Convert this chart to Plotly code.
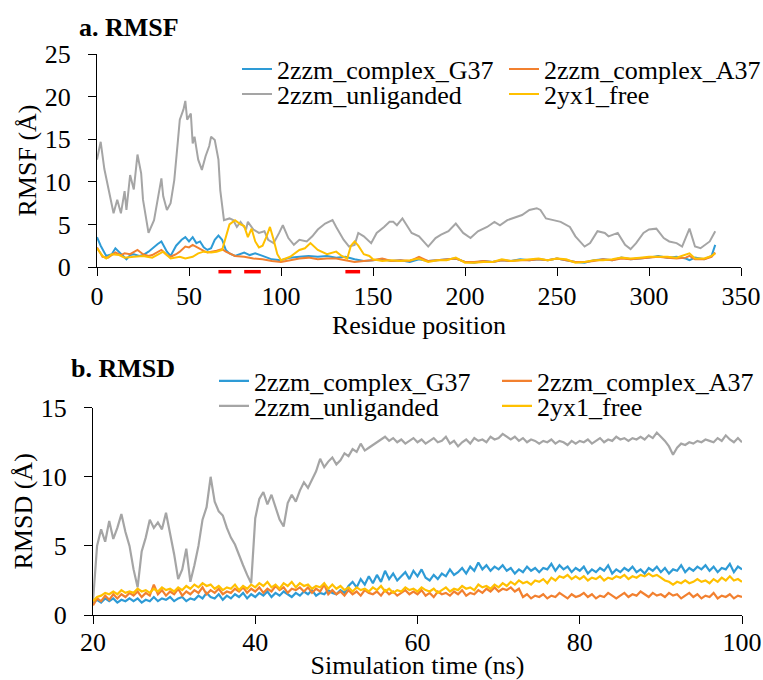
import numpy as np
import plotly.graph_objects as go

W, H = 763, 680
FONT = "Liberation Serif"

series_names = ["2zzm_complex_G37", "2zzm_complex_A37", "2zzm_unliganded", "2yx1_free"]
colors = ["#2e9bd6", "#f2802f", "#a5a5a5", "#ffc000"]

# ---------------- RMSF (residue position vs RMSF) ----------------
rmsf_g37_res = [0, 2, 5, 8, 10, 13, 16, 18, 20, 23, 25, 28, 30, 33, 35, 38, 40, 43, 46, 48,
                50, 52, 54, 56, 58, 60, 62, 64, 66, 68, 70, 72, 75, 78, 80, 83, 86, 90, 95, 100,
                105, 110, 115, 120, 125, 130, 135, 140, 145, 150, 155, 160, 165, 170, 175, 180,
                185, 190, 195, 200, 205, 210, 215, 220, 225, 230, 235, 240, 245, 250, 255, 260,
                265, 270, 275, 280, 285, 290, 295, 300, 305, 310, 315, 320, 322, 325, 330, 334, 336]
rmsf_g37 = [3.5, 2.5, 1.3, 1.5, 2.2, 1.5, 0.9, 1.4, 1.5, 1.3, 1.4, 1.8, 2.2, 2.7, 3.0, 1.8, 1.3, 2.5, 3.2, 3.5,
            3.0, 3.5, 2.8, 3.0, 2.3, 2.0, 2.2, 3.2, 3.7, 3.2, 2.0, 1.6, 1.3, 1.5, 1.7, 1.4, 1.6, 1.3, 0.9, 0.8,
            1.1, 1.2, 1.3, 1.2, 1.3, 1.1, 1.2, 0.9, 0.7, 0.8, 0.9, 0.7, 0.8, 0.6, 0.9, 0.7,
            0.8, 0.9, 1.0, 0.6, 0.5, 0.7, 0.6, 0.8, 0.7, 0.9, 0.8, 0.9, 0.8, 1.0, 0.8, 0.6,
            0.5, 0.8, 0.9, 0.8, 1.1, 0.9, 1.0, 1.1, 1.3, 1.1, 1.2, 1.0, 0.8, 1.1, 0.9, 1.3, 2.6]

rmsf_a37_res = [0, 3, 6, 10, 13, 15, 18, 20, 22, 25, 28, 30, 35, 38, 40, 43, 45, 48, 50, 52,
                55, 58, 60, 63, 65, 68, 70, 75, 80, 85, 90, 95, 100, 105, 110, 115, 120, 125, 130, 135,
                140, 145, 150, 155, 160, 165, 170, 175, 180, 185, 190, 195, 200, 205, 210, 215, 220, 225,
                230, 235, 240, 245, 250, 255, 260, 265, 270, 275, 280, 285, 290, 295, 300, 305, 310, 315,
                320, 322, 325, 330, 334, 336]
rmsf_a37 = [2.3, 1.2, 1.1, 1.7, 1.4, 1.6, 1.5, 1.8, 2.0, 1.5, 1.3, 1.4, 2.0, 1.4, 1.2, 1.5, 1.8, 2.4, 2.3, 2.6,
            2.2, 1.9, 1.7, 1.8, 1.9, 2.1, 1.8, 1.3, 1.2, 1.0, 0.9, 0.7, 0.6, 0.8, 1.0, 1.1, 0.9, 1.0, 1.0, 0.8,
            0.6, 0.7, 0.8, 1.0, 0.7, 0.8, 0.7, 1.2, 0.7, 0.8, 0.9, 1.0, 0.6, 0.6, 0.7, 0.6, 0.8, 0.7,
            0.8, 0.8, 0.9, 0.8, 1.0, 0.8, 0.6, 0.6, 0.7, 0.9, 0.8, 1.0, 0.9, 1.0, 1.1, 1.2, 1.1, 1.0,
            1.1, 1.3, 0.9, 0.9, 1.2, 1.7]

rmsf_unl_res = [0, 2, 4, 5, 7, 9, 11, 13, 15, 16, 18, 20, 22, 24, 25, 28, 31, 33, 35, 36,
                38, 40, 42, 44, 45, 47, 48, 49, 51, 52, 53, 55, 57, 59, 61, 62, 64, 66, 67, 69,
                72, 74, 76, 78, 81, 82, 85, 88, 91, 93, 96, 99, 101, 104, 107, 110, 114, 117, 120, 124,
                128, 130, 134, 137, 140, 142, 145, 149, 152, 156, 159, 161, 163, 166, 171, 175, 180, 184,
                187, 191, 195, 199, 203, 207, 212, 216, 219, 223, 228, 231, 235, 239, 241, 244, 248, 252,
                257, 260, 265, 268, 272, 276, 278, 283, 287, 290, 293, 297, 300, 304, 308, 311, 315, 318,
                322, 325, 328, 333, 336]
rmsf_unl = [12.6, 14.7, 11.5, 10.5, 8.3, 6.3, 7.9, 6.3, 8.9, 6.7, 10.8, 9.1, 13.2, 11.0, 7.9, 4.0, 5.5, 7.9, 10.4, 8.3,
            6.7, 7.5, 10.2, 14.9, 17.3, 18.5, 19.5, 17.3, 18.0, 14.5, 15.3, 12.6, 11.4, 13.0, 14.2, 15.3, 14.9, 12.6, 9.0, 5.5,
            5.7, 5.5, 4.7, 5.3, 4.4, 5.3, 4.4, 4.0, 4.2, 3.2, 2.8, 4.0, 4.9, 3.4, 2.6, 3.2, 3.0, 3.6, 4.4, 5.1,
            5.5, 4.7, 3.2, 2.4, 2.6, 4.0, 3.6, 2.8, 4.0, 4.7, 5.3, 5.3, 4.9, 5.7, 4.0, 3.6, 2.4, 3.4,
            3.8, 4.2, 5.1, 4.0, 3.4, 4.2, 4.7, 5.3, 4.9, 5.5, 5.9, 6.1, 6.7, 6.9, 6.7, 5.7, 5.5, 5.3,
            4.7, 3.6, 2.4, 2.8, 4.2, 4.0, 3.6, 4.0, 2.6, 2.1, 2.8, 4.0, 4.4, 4.5, 3.4, 3.0, 2.8, 2.4,
            4.5, 2.4, 2.2, 3.0, 4.2]

rmsf_free_res = [0, 3, 5, 8, 12, 15, 20, 25, 30, 33, 36, 40, 45, 48, 52, 55, 58, 62, 65, 68,
                 70, 72, 75, 78, 80, 82, 84, 86, 88, 90, 92, 94, 96, 98, 100, 105, 110, 113, 116, 120,
                 125, 130, 133, 136, 138, 140, 142, 145, 148, 150, 155, 160, 165, 170, 175, 180, 185, 190,
                 195, 200, 205, 210, 215, 220, 225, 230, 235, 240, 245, 250, 255, 260, 265, 270, 275, 280,
                 285, 290, 295, 300, 305, 310, 315, 320, 322, 325, 330, 334, 336]
rmsf_free = [2.2, 1.3, 1.0, 1.5, 1.4, 1.1, 1.2, 1.3, 1.1, 1.5, 1.8, 1.0, 1.2, 1.0, 1.2, 1.6, 1.8, 1.7, 1.8, 2.0,
             3.5, 5.0, 5.5, 5.0, 4.8, 3.5, 4.5, 3.0, 2.3, 2.5, 3.5, 4.7, 3.2, 1.5, 0.8, 1.2, 2.0, 2.2, 2.8, 2.0,
             1.5, 1.8, 1.3, 1.0, 2.5, 3.0, 2.5, 1.5, 1.3, 0.9, 0.7, 0.8, 0.7, 0.8, 1.0, 0.6, 0.8, 0.8,
             1.1, 0.5, 0.5, 0.6, 0.6, 0.9, 0.7, 0.8, 0.9, 1.0, 0.8, 1.0, 0.9, 0.5, 0.6, 0.8, 0.8, 0.9,
             1.1, 1.0, 1.1, 1.2, 1.2, 1.2, 1.1, 1.4, 1.6, 1.0, 1.0, 1.3, 1.6]

# red marks under the residue axis (residue ranges)
red_ranges = [(66, 73), (80, 89), (135, 143)]

# ---------------- RMSD (time vs RMSD), sampled every 0.5 ns ----------------
rmsd_time = np.round(np.arange(20.0, 100.001, 0.5), 1)

rmsd_g37 = [0.9, 1.1, 0.9, 1.2, 1.0, 1.2, 0.9, 1.1, 1.0, 1.2,
            1.0, 1.2, 0.9, 1.1, 1.0, 1.3, 1.0, 1.2, 1.1, 1.3,
            1.0, 1.2, 1.3, 1.0, 1.2, 1.1, 1.4, 1.2, 1.6, 1.3,
            1.2, 1.5, 1.1, 1.4, 1.2, 1.5, 1.3, 1.6, 1.2, 1.5,
            1.3, 1.6, 1.4, 1.7, 1.3, 1.6, 1.4, 1.7, 1.5, 1.3,
            1.6, 1.4, 1.7, 1.5, 1.8, 1.4, 1.6, 1.5, 1.8, 1.6,
            1.5, 1.8, 1.6, 2.1, 2.4, 2.0, 2.6, 2.2, 2.8, 2.3,
            2.9, 2.4, 3.2, 2.6, 3.0, 2.5, 2.8, 3.1, 2.6, 3.2,
            2.8, 3.3, 2.7, 2.5, 2.9, 2.6, 3.0, 2.8, 3.3, 2.9,
            3.1, 3.4, 3.0, 3.5, 3.2, 3.8, 3.3, 3.6, 3.2, 3.5,
            3.3, 3.6, 3.2, 3.4, 3.0, 3.3, 3.1, 3.5, 3.2, 3.4,
            3.1, 3.4, 3.3, 3.7, 3.2, 3.6, 3.3, 3.5, 3.1, 3.4,
            3.2, 3.5, 3.0, 3.3, 3.1, 3.4, 3.2, 3.6, 3.0, 3.3,
            3.1, 3.4, 3.2, 3.5, 3.1, 3.3, 3.0, 3.4, 3.2, 3.5,
            3.1, 3.4, 3.0, 3.3, 3.2, 3.6, 3.1, 3.4, 3.2, 3.5,
            3.3, 3.6, 3.2, 3.5, 3.1, 3.4, 3.3, 3.7, 3.1, 3.5,
            3.3]

rmsd_a37 = [0.7, 1.2, 1.0, 1.4, 1.1, 1.5, 1.2, 1.5, 1.3, 1.6,
            1.4, 1.7, 1.3, 1.6, 1.4, 2.2, 1.5, 1.8, 1.4, 1.7,
            1.5, 1.9, 1.4, 1.7, 1.5, 1.8, 1.6, 2.0, 1.5, 1.8,
            1.6, 1.9, 1.5, 1.7, 1.6, 1.9, 1.7, 2.0, 1.6, 1.9,
            1.7, 2.0, 1.6, 1.9, 1.7, 2.1, 1.8, 2.0, 1.6, 1.9,
            1.8, 2.0, 1.7, 2.0, 1.6, 1.9, 1.7, 2.2, 1.5, 1.8,
            1.5, 1.7, 1.4, 1.8, 1.5, 1.7, 1.4, 1.8, 1.6, 1.5,
            1.7, 1.4, 1.8, 1.5, 1.7, 1.4, 1.6, 1.8, 1.5, 1.7,
            1.5, 1.8, 1.4, 1.6, 1.3, 1.7, 1.5, 1.6, 1.4, 1.7,
            1.5, 1.8, 1.4, 1.6, 1.5, 1.8, 1.6, 1.9, 1.7, 2.0,
            1.7, 1.9, 1.8, 2.0, 1.7, 1.9, 1.3, 1.5, 1.2, 1.4,
            1.3, 1.5, 1.2, 1.4, 1.3, 1.6, 1.4, 1.2, 1.5, 1.3,
            1.4, 1.6, 1.3, 1.5, 1.2, 1.4, 1.3, 1.6, 1.4, 1.2,
            1.4, 1.6, 1.3, 1.5, 1.4, 1.7, 1.5, 1.3, 1.6, 1.4,
            1.5, 1.3, 1.6, 1.4, 1.5, 1.2, 1.4, 1.6, 1.3, 1.5,
            1.2, 1.4, 1.3, 1.6, 1.2, 1.4, 1.3, 1.5, 1.2, 1.4,
            1.3]

rmsd_unl = [1.0, 5.0, 6.2, 5.3, 6.8, 5.5, 6.3, 7.3, 6.0, 5.0,
            3.3, 2.0, 4.6, 5.6, 6.9, 6.3, 6.7, 6.2, 7.4, 6.0,
            4.4, 2.6, 3.3, 4.8, 2.4, 3.6, 5.0, 6.9, 7.8, 10.0,
            8.2, 7.5, 7.2, 6.3, 5.6, 5.1, 4.3, 3.6, 2.9, 2.3,
            7.0, 8.4, 8.9, 8.0, 8.7, 7.8, 6.9, 6.4, 8.1, 8.7,
            8.2, 9.0, 9.6, 9.2, 9.8, 10.4, 11.3, 10.7, 11.1, 11.4,
            10.9, 11.2, 11.7, 11.5, 12.0, 11.8, 12.4, 11.9, 12.1, 12.3,
            12.5, 12.7, 12.9, 12.6, 12.8, 12.5, 12.7, 12.4, 12.6, 12.8,
            12.5, 12.7, 12.4, 12.6, 12.8, 12.5, 12.6, 12.9, 12.4, 12.6,
            12.2, 12.5, 12.7, 12.4, 12.8, 12.6, 12.7, 12.5, 12.9, 12.7,
            12.8, 13.1, 12.9, 12.7, 12.9, 12.6, 12.8, 12.5, 12.7, 12.6,
            12.4, 12.6, 12.5, 12.7, 12.4, 12.6, 12.5, 12.3, 12.6, 12.4,
            12.6, 12.5, 12.7, 12.4, 12.6, 12.8, 12.5, 12.7, 12.6, 12.9,
            12.7, 12.8, 12.6, 12.8, 12.7, 12.9, 12.7, 13.0, 12.8, 13.2,
            12.9, 12.6, 12.2, 11.6, 12.1, 12.4, 12.3, 12.5, 12.4, 12.6,
            12.5, 12.7, 12.6, 12.5, 12.8, 12.6, 13.0, 12.7, 12.5, 12.8,
            12.5]

rmsd_free = [1.0, 1.3, 1.4, 1.6, 1.5, 1.7, 1.5, 1.8, 1.6, 1.7,
             1.6, 1.9, 1.7, 1.8, 1.6, 1.9, 1.7, 2.0, 1.8, 1.9,
             1.7, 2.0, 1.8, 2.1, 1.9, 2.2, 2.0, 2.3, 2.1, 2.2,
             1.9, 2.1, 1.8, 2.0, 1.9, 2.2, 1.8, 2.1, 1.9, 2.2,
             2.0, 2.3, 2.1, 2.4, 2.0, 2.2, 1.9, 2.3, 2.1, 2.4,
             2.0, 2.3, 2.1, 2.2, 1.9, 2.1, 2.0, 2.3, 1.9, 2.2,
             1.9, 2.1, 1.8, 2.0, 1.7, 2.0, 1.8, 1.9, 1.7, 2.0,
             1.8, 2.1, 1.7, 1.9, 1.6, 1.8, 1.7, 2.0, 1.8, 1.9,
             1.7, 2.0, 1.8, 1.7, 1.9, 1.6, 1.8, 2.0, 1.7, 1.9,
             1.8, 2.1, 1.9, 2.0, 1.8, 2.2, 2.0, 2.1, 1.9, 2.2,
             2.0, 2.3, 2.1, 2.4, 2.2, 2.5, 2.3, 2.4, 2.2, 2.5,
             2.4, 2.6, 2.3, 2.7, 2.5, 2.8, 2.7, 2.9, 2.6, 2.8,
             2.6, 2.8, 2.5, 2.7, 2.6, 2.8, 2.5, 2.7, 2.6, 2.8,
             2.7, 2.9, 2.6, 2.8, 2.7, 2.9, 2.8, 3.0, 2.8, 2.9,
             2.7, 2.5, 2.4, 2.2, 2.4, 2.3, 2.5, 2.3, 2.4, 2.6,
             2.4, 2.5, 2.3, 2.6, 2.4, 2.7, 2.5, 2.8, 2.5, 2.6,
             2.4]

rmsf_x = [rmsf_g37_res, rmsf_a37_res, rmsf_unl_res, rmsf_free_res]
rmsf_y = [rmsf_g37, rmsf_a37, rmsf_unl, rmsf_free]
rmsd_y = [rmsd_g37, rmsd_a37, rmsd_unl, rmsd_free]
for xs, ys in zip(rmsf_x, rmsf_y):
    assert len(xs) == len(ys)
for ys in rmsd_y:
    assert len(ys) == len(rmsd_time)

# ---------------- figure ----------------
fig = go.Figure()
top_legends = ["legend", "legend", "legend2", "legend2"]
bot_legends = ["legend3", "legend3", "legend4", "legend4"]

for i in range(4):
    fig.add_trace(go.Scatter(x=rmsf_x[i], y=rmsf_y[i], mode="lines", name=series_names[i],
                             line=dict(color=colors[i], width=2), xaxis="x", yaxis="y",
                             legend=top_legends[i]))
for i in range(4):
    fig.add_trace(go.Scatter(x=rmsd_time, y=rmsd_y[i], mode="lines", name=series_names[i],
                             line=dict(color=colors[i], width=2.2), xaxis="x2", yaxis="y2",
                             legend=bot_legends[i]))

def px_x(p):
    return p / W

def px_y(p):
    return 1 - p / H

axis_common = dict(showline=True, linecolor="black", linewidth=1.3, ticks="outside",
                   ticklen=8, tickwidth=1.3, tickcolor="black", showgrid=False, zeroline=False,
                   tickfont=dict(family=FONT, size=26, color="black"),
                   title_font=dict(family=FONT, size=26, color="black"))

fig.update_layout(
    width=W, height=H, margin=dict(l=0, r=0, t=0, b=0, autoexpand=False),
    paper_bgcolor="white", plot_bgcolor="white",
    font=dict(family=FONT, size=26, color="black"),
    xaxis=dict(domain=[px_x(97), px_x(741)], anchor="y", range=[0, 350], dtick=50,
               title=dict(text="Residue position", standoff=0), ticklabelstandoff=-2, **axis_common),
    yaxis=dict(domain=[px_y(267), px_y(54)], anchor="x", range=[0, 25], dtick=5,
               title=dict(text="RMSF (Å)", standoff=0), ticklabelstandoff=12, **axis_common),
    xaxis2=dict(domain=[px_x(93), px_x(742)], anchor="y2", range=[20, 100], dtick=20,
                title=dict(text="Simulation time (ns)", standoff=0), ticklabelstandoff=-4, **axis_common),
    yaxis2=dict(domain=[px_y(615), px_y(407.7)], anchor="x2", range=[0, 15], dtick=5,
                title=dict(text="RMSD (Å)", standoff=0), ticklabelstandoff=12, **axis_common),
    showlegend=True,
)

leg_common = dict(orientation="h", xanchor="left", yanchor="middle", entrywidthmode="pixels",
                  bgcolor="rgba(0,0,0,0)", font=dict(family=FONT, size=26, color="black"),
                  itemwidth=30, tracegroupgap=0, traceorder="normal")
fig.update_layout(
    legend=dict(x=px_x(237), y=px_y(69), entrywidth=222, **leg_common),
    legend2=dict(x=px_x(237), y=px_y(94), entrywidth=222, **leg_common),
    legend3=dict(x=px_x(214), y=px_y(381), entrywidth=238, **leg_common),
    legend4=dict(x=px_x(214), y=px_y(406), entrywidth=238, **leg_common),
)

# panel titles
fig.add_annotation(text="<b>a. RMSF</b>", x=px_x(77), y=px_y(28), xref="paper", yref="paper",
                   xanchor="left", yanchor="middle", showarrow=False,
                   font=dict(family=FONT, size=26, color="black"))
fig.add_annotation(text="<b>b. RMSD</b>", x=px_x(69), y=px_y(368), xref="paper", yref="paper",
                   xanchor="left", yanchor="middle", showarrow=False,
                   font=dict(family=FONT, size=26, color="black"))

# red residue-range markers just below the residue axis
for a, b in red_ranges:
    fig.add_shape(type="line", x0=a, x1=b, y0=-0.022, y1=-0.022, xref="x", yref="y domain",
                  line=dict(color="#ff0000", width=3.5))

fig.write_html("out.html")
